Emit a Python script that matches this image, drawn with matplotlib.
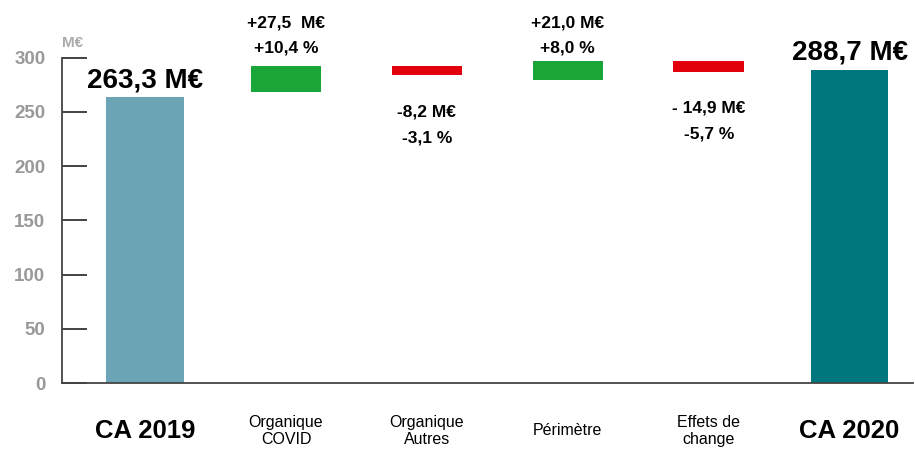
import matplotlib
matplotlib.use("Agg")
import matplotlib.pyplot as plt
from matplotlib import font_manager

names = {f.name for f in font_manager.fontManager.ttflist}
FAM = ['Liberation Sans Narrow', 'DejaVu Sans'] if 'Liberation Sans Narrow' in names else ['Liberation Sans', 'DejaVu Sans']
plt.rcParams['font.family'] = FAM

categories = ['CA 2019', 'Organique\nCOVID', 'Organique\nAutres', 'Périmètre', 'Effets de\nchange', 'CA 2020']
bar_bottoms = [0, 268.0, 284.3, 279.8, 287.2, 0]
bar_tops = [263.3, 292.6, 292.6, 297.3, 297.3, 288.7]
amount_labels = ['263,3 M€', '+27,5  M€', '-8,2 M€', '+21,0 M€', '- 14,9 M€', '288,7 M€']
pct_labels = ['', '+10,4 %', '-3,1 %', '+8,0 %', '-5,7 %', '']
yticks = [0, 50, 100, 150, 200, 250, 300]

colors = ['#6ba4b4', '#1aa538', '#e2000f', '#1aa538', '#e2000f', '#00767e']
widths = [0.55, 0.50, 0.50, 0.50, 0.50, 0.55]

fig = plt.figure(figsize=(9.16, 4.49), dpi=100)
ax = fig.add_axes([62/916, 1-383/449, (913-62)/916, (383-57.7)/449])

x = list(range(len(categories)))
heights = [t - b for t, b in zip(bar_tops, bar_bottoms)]
ax.bar(x, heights, bottom=bar_bottoms, width=widths, color=colors, zorder=2)

ax.set_xlim(-0.59, 5.45)
ax.set_ylim(0, 300)
ax.set_yticks(yticks)
ax.set_yticklabels([str(v) for v in yticks], color='#999999', fontsize=13.5, fontweight='bold')
ax.tick_params(axis='y', direction='in', length=18, width=1.2, color='#222222', pad=12)
ax.set_xticks([])
for s in ['top', 'right']:
    ax.spines[s].set_visible(False)
for s in ['left', 'bottom']:
    ax.spines[s].set_color('#444444')
    ax.spines[s].set_linewidth(1.3)

ax.text(0.0, 1.025, 'M€', transform=ax.transAxes, color='#aaaaaa', fontsize=11,
        fontweight='bold', ha='left', va='bottom')

# totals labels
for i in (0, 5):
    ax.text(x[i], bar_tops[i] + 4, amount_labels[i], ha='center', va='bottom',
            fontsize=20, fontweight='bold', color='black', clip_on=False)

# change labels
for i in (1, 2, 3, 4):
    if colors[i] == '#1aa538':
        ax.text(x[i], 332, amount_labels[i], ha='center', va='center', fontsize=12.5,
                fontweight='bold', clip_on=False)
        ax.text(x[i], 309, pct_labels[i], ha='center', va='center', fontsize=12.5,
                fontweight='bold', clip_on=False)
    else:
        ax.text(x[i], bar_bottoms[i] - 34, amount_labels[i], ha='center', va='center',
                fontsize=12.5, fontweight='bold', clip_on=False)
        ax.text(x[i], bar_bottoms[i] - 58, pct_labels[i], ha='center', va='center',
                fontsize=12.5, fontweight='bold', clip_on=False)

# category labels
for i, c in enumerate(categories):
    if i in (0, 5):
        ax.text(x[i], -44, c, ha='center', va='center', fontsize=18.5, fontweight='bold',
                clip_on=False)
    else:
        ax.text(x[i], -44, c, ha='center', va='center', fontsize=11.5,
                linespacing=1.15, clip_on=False)

fig.savefig('out.png', dpi=100)
